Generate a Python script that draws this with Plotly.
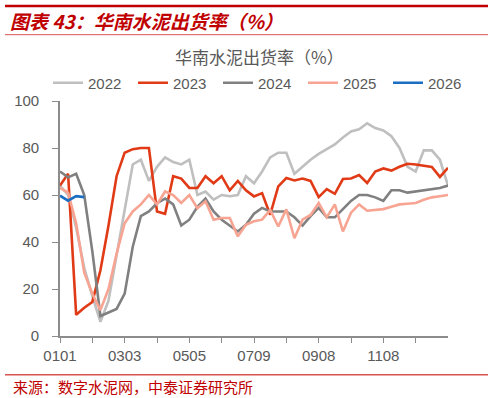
import plotly.graph_objects as go

# ---------------- data ----------------
n_points = 49
categories = list(range(n_points))
label_text = ["0101", "0303", "0505", "0709", "0908", "1108"]
label_step = 8
tick_step = 4

y2022 = [64, 60, 46, 29, 17, 6, 15, 34, 53, 73, 75, 66, 72, 76, 74, 73, 75, 60, 61.5, 58,
         60, 59.5, 60, 68, 65, 70, 76, 78, 78, 69, 72, 75, 77.5, 79.5, 81.5, 84.5, 87, 88, 90.5,
         88.5, 87.5, 85, 80, 72, 70, 79, 79, 75, 64]
y2023 = [64, 69, 9, 12, 14.5, 28, 47, 68, 78, 79.5, 80, 80, 53, 52, 68, 67, 63, 63, 68, 65,
         68, 62, 66, 62, 59.4, 60.8, 51.6, 63.7, 67.2, 66.2, 67, 66, 59.1, 62.5, 60.5, 66.8, 67,
         68.5, 65.1, 70, 71.3, 70.4, 72, 73.3, 73, 72.5, 71.9, 67.7, 71.6]
y2024 = [70, 67.5, 69, 60, 36, 8.5, 10, 11.5, 18, 38, 51, 53, 56.5, 58.5, 56, 47, 49.5, 55,
         58.5, 53, 49.5, 47, 44.5, 47.3, 52, 54.5, 53, 53, 53, 50.5, 47, 51, 54.5, 50.5, 50.5,
         54, 57.5, 60, 60, 59, 57.5, 62, 62, 61, 61.5, 62, 62.3, 63, 64]
y2025 = [63, 61, 48, 27, 18, 11, 20, 35, 48, 53, 56, 60, 56, 61.5, 60, 56.6, 60, 54.4, 57.3,
         49.5, 50.2, 50.2, 42.4, 47.3, 48.8, 49.5, 53.7, 46.6, 53.9, 41.6, 49.5, 51.5, 56.6,
         50.5, 56, 44.5, 52.5, 56, 53.3, 53.5, 54, 55, 56, 56.3, 56.6, 58, 59, 59.5, 60]
y2026 = [59.7, 57.6, 59.5, 59.1] + [None] * (n_points - 4)

series_names = ["2022", "2023", "2024", "2025", "2026"]
series_values = [y2022, y2023, y2024, y2025, y2026]
series_colors = ["#BFBFBF", "#E03A16", "#808080", "#F7A493", "#1B6EC2"]

# ---------------- layout helpers (pixel -> paper) ----------------
W, H = 493, 398
PL, PR, PT, PB = 60, 448, 101, 336


def px2x(px):
    return (px - PL) / (PR - PL)


def px2y(py):
    return (PB - py) / (PB - PT)


fig = go.Figure()
for name, vals, col in zip(series_names, series_values, series_colors):
    fig.add_trace(go.Scatter(x=categories, y=vals, mode="lines", name=name,
                             line=dict(color=col, width=2.6), connectgaps=False))

tickvals = list(range(0, n_points - 1, tick_step))
ticktext = []
for v in tickvals:
    if v % label_step == 0 and v // label_step < len(label_text):
        ticktext.append(label_text[v // label_step])
    else:
        ticktext.append("")

axis_col = "#8C8C8C"
lab_col = "#595959"
num_font = "Liberation Sans, Arial, sans-serif"
cjk_font = "Noto Sans CJK SC, sans-serif"

fig.update_layout(
    width=W, height=H, autosize=False,
    margin=dict(l=PL, r=W - PR, t=PT, b=H - PB, pad=0),
    paper_bgcolor="white", plot_bgcolor="white",
    showlegend=True,
    legend=dict(orientation="h", x=px2x(48), xanchor="left", y=px2y(83), yanchor="middle",
                font=dict(family=num_font, size=15, color=lab_col),
                bgcolor="rgba(0,0,0,0)", entrywidth=40, itemwidth=30),
    xaxis=dict(range=[0, n_points - 1], showgrid=False, zeroline=False,
               showline=True, linecolor=axis_col, linewidth=1.6,
               tickmode="array", tickvals=tickvals, ticktext=ticktext,
               ticks="outside", ticklen=5, tickwidth=1.4, tickcolor=axis_col,
               tickfont=dict(family=num_font, size=15, color=lab_col)),
    yaxis=dict(range=[0, 100], showgrid=False, zeroline=False,
               showline=True, linecolor=axis_col, linewidth=1.6,
               tickmode="array", tickvals=[0, 20, 40, 60, 80, 100],
               ticks="outside", ticklen=6, tickwidth=1.4, tickcolor=axis_col,
               ticklabelstandoff=10,
               tickfont=dict(family=num_font, size=15, color=lab_col)),
)

annotations = [
    dict(text="<b><i>图表 43：华南水泥出货率（%）</i></b>", x=px2x(8), y=px2y(21),
         xanchor="left", yanchor="middle",
         font=dict(family=cjk_font, size=19, color="#C00000")),
    dict(text="华南水泥出货率（%）", x=px2x(259), y=px2y(56), xanchor="center", yanchor="middle",
         font=dict(family=cjk_font, size=17, color=lab_col)),
    dict(text="来源：数字水泥网，中泰证券研究所", x=px2x(11), y=px2y(386),
         xanchor="left", yanchor="middle",
         font=dict(family=cjk_font, size=15, color="#C00000")),
]
for a in annotations:
    a.update(xref="paper", yref="paper", showarrow=False)
fig.update_layout(annotations=annotations)

shapes = [
    dict(type="line", x0=px2x(5), x1=px2x(488), y0=px2y(6), y1=px2y(6),
         line=dict(color="#C00000", width=2.6)),
    dict(type="line", x0=px2x(5), x1=px2x(488), y0=px2y(34.7), y1=px2y(34.7),
         line=dict(color="#D9534F", width=1)),
    dict(type="line", x0=px2x(5), x1=px2x(488), y0=px2y(374.7), y1=px2y(374.7),
         line=dict(color="#D9534F", width=1.4)),
]
for s in shapes:
    s.update(xref="paper", yref="paper")
fig.update_layout(shapes=shapes)

fig.write_html("out.html")
